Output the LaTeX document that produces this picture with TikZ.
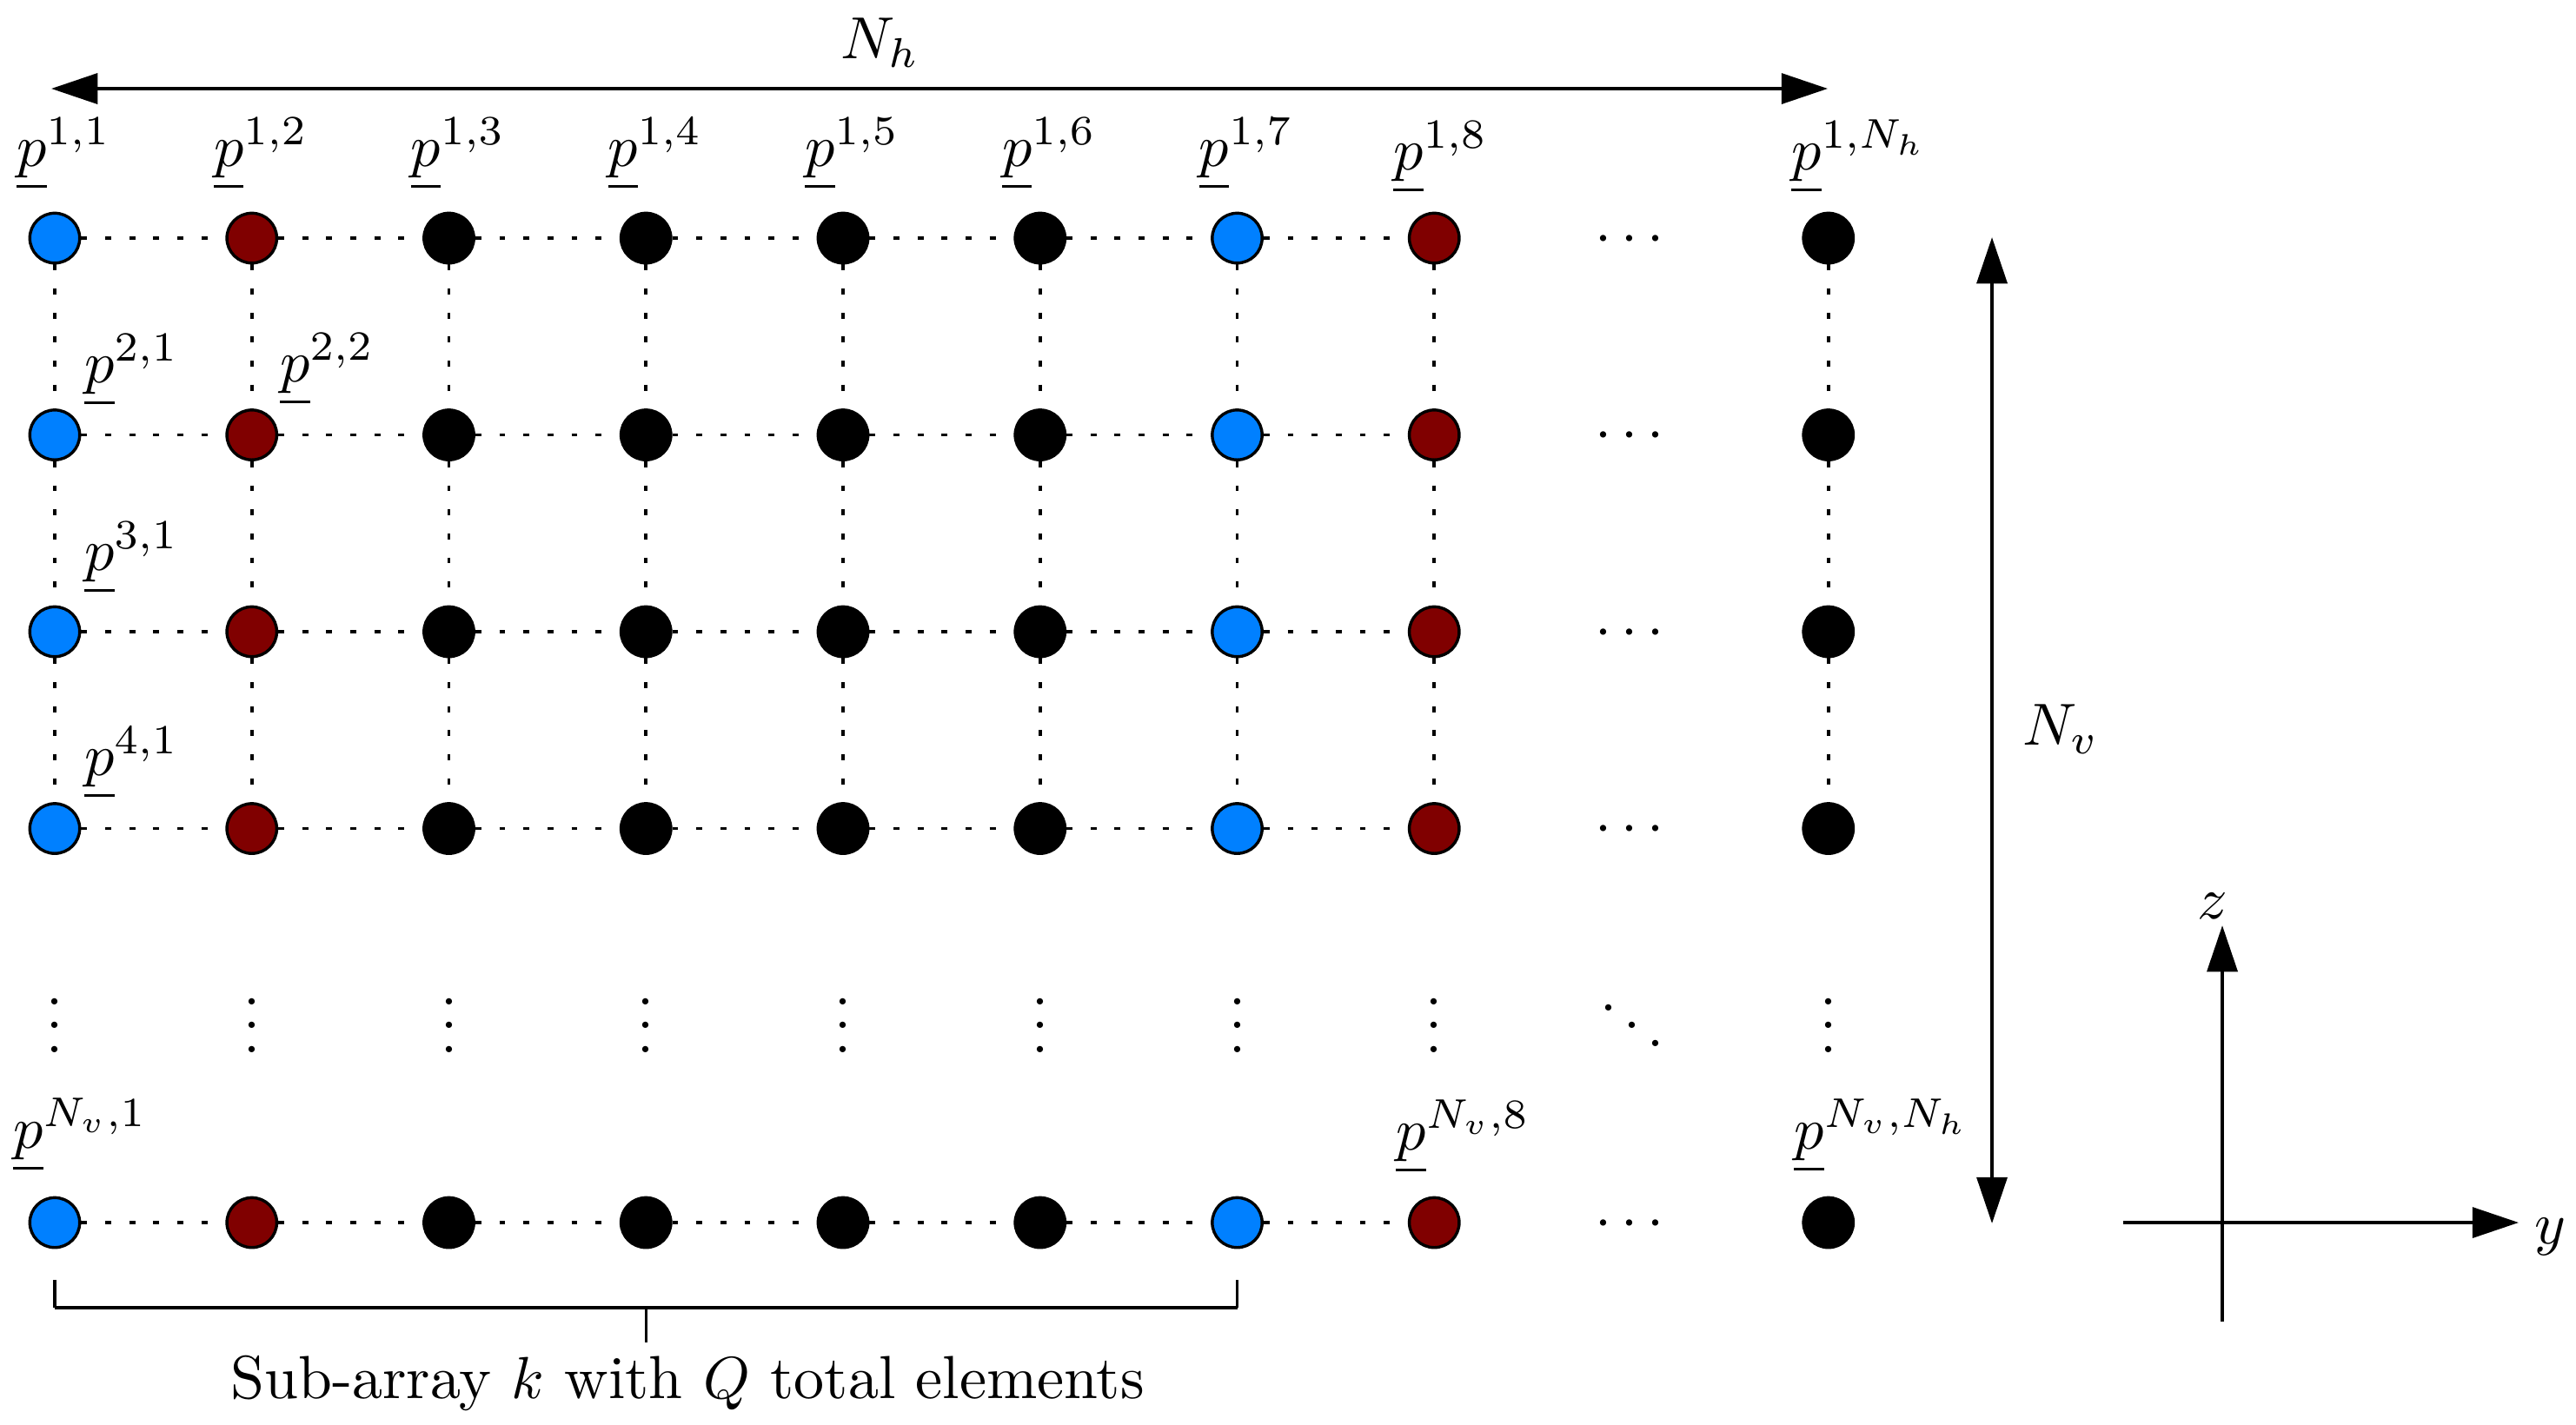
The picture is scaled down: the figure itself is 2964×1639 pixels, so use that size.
\documentclass[tikz,border=0pt]{standalone}
\usetikzlibrary{arrows.meta}
\definecolor{elemblue}{RGB}{0,128,255}
\definecolor{elemred}{RGB}{128,0,0}
\tikzset{
  elem/.style={circle, draw=black, line width=0.5pt, minimum size=8.4pt, inner sep=0pt},
  gridline/.style={line width=0.55pt, dash pattern=on 1pt off 3.05pt},
  dimarrow/.style={line width=0.6pt, arrows={Triangle[length=7.8pt,width=5.1pt]-Triangle[length=7.8pt,width=5.1pt]}},
  axisline/.style={line width=0.6pt, arrows={-Triangle[length=7.8pt,width=5.1pt]}},
  lab/.style={inner sep=0pt, anchor=south west},
  txt/.style={inner sep=0pt, anchor=base},
  dotsnode/.style={inner sep=0pt, anchor=base},
}
\begin{document}
\begin{tikzpicture}[x=0.14641pt, y=-0.14641pt]
\useasboundingbox (0,0) rectangle (2964,1639);

% elements
\foreach \c/\x/\col in {1/63/elemblue, 2/289.75/elemred, 3/516.5/black, 4/743.25/black,
                         5/970/black, 6/1196.75/black, 7/1423.5/elemblue, 8/1650.25/elemred,
                         h/2103.75/black}{
  \foreach \r/\y in {1/274, 2/500.5, 3/727, 4/953.5, v/1407}{
    \node[elem, fill=\col] (n\r\c) at (\x,\y) {};
  }
}

% horizontal dotted connections
\foreach \r in {1,2,3,4,v}{
  \foreach \a/\b in {1/2,2/3,3/4,4/5,5/6,6/7,7/8}{
    \draw[gridline] (n\r\a) -- (n\r\b);
  }
}
% vertical dotted connections
\foreach \c in {1,2,3,4,5,6,7,8,h}{
  \foreach \a/\b in {1/2,2/3,3/4}{
    \draw[gridline] (n\a\c) -- (n\b\c);
  }
}

% horizontal ellipses
\foreach \r/\y in {1/274, 2/500.5, 3/727, 4/953.5, v/1407}{
  \node[dotsnode] (cd\r) at (1875,{\y+17}) {$\cdots$};
}
% vertical ellipses
\foreach \c/\x in {1/63, 2/289.75, 3/516.5, 4/743.25, 5/970, 6/1196.75, 7/1423.5, 8/1650.25, h/2103.75}{
  \node[dotsnode] (vd\c) at (\x,1211) {$\vdots$};
}
\node[dotsnode] (dd) at (1878,1211) {$\ddots$};

% element labels
\node[lab] (l11) at (18,220) {$\underline{p}^{1,1}$};
\node[lab] (l12) at (244.75,220) {$\underline{p}^{1,2}$};
\node[lab] (l13) at (471.5,220) {$\underline{p}^{1,3}$};
\node[lab] (l14) at (698.25,220) {$\underline{p}^{1,4}$};
\node[lab] (l15) at (925,220) {$\underline{p}^{1,5}$};
\node[lab] (l16) at (1151.75,220) {$\underline{p}^{1,6}$};
\node[lab] (l17) at (1378.5,220) {$\underline{p}^{1,7}$};
\node[lab] (l18) at (1602,224) {$\underline{p}^{1,8}$};
\node[lab] (l1h) at (2060,224) {$\underline{p}^{1,N_h}$};
\node[lab] (l21) at (96,469) {$\underline{p}^{2,1}$};
\node[lab] (l22) at (321,468) {$\underline{p}^{2,2}$};
\node[lab] (l31) at (96,685) {$\underline{p}^{3,1}$};
\node[lab] (l41) at (96,921) {$\underline{p}^{4,1}$};
\node[lab] (lv1) at (14,1350) {$\underline{p}^{N_v,1}$};
\node[lab] (lv8) at (1605,1352) {$\underline{p}^{N_v,8}$};
\node[lab] (lvh) at (2063,1351) {$\underline{p}^{N_v,N_h}$};

% N_h dimension arrow
\coordinate (nhL) at (59,102);
\coordinate (nhR) at (2103,102);
\draw[dimarrow] (nhL) -- (nhR);
\node[inner sep=0pt, anchor=base west] (nhlab) at (966,67) {$N_h$};

% N_v dimension arrow
\coordinate (nvT) at (2292,273);
\coordinate (nvB) at (2292,1408);
\draw[dimarrow] (nvT) -- (nvB);
\node[inner sep=0pt, anchor=base west] (nvlab) at (2326,857) {$N_v$};

% axes
\coordinate (axL) at (2443,1407);
\coordinate (axR) at (2898,1407);
\coordinate (axB) at (2557,1521);
\coordinate (axT) at (2557,1065);
\draw[axisline] (axL) -- (axR);
\draw[axisline] (axB) -- (axT);
\node[txt] (ylab) at (2934,1431) {$y$};
\node[txt] (zlab) at (2546,1057) {$z$};

% sub-array bracket
\coordinate (br1) at (63,1473);
\coordinate (br2) at (63,1505);
\coordinate (br3) at (1423.5,1505);
\coordinate (br4) at (1423.5,1473);
\coordinate (brm) at (743.25,1505);
\coordinate (brt) at (743.25,1545);
\draw[line width=0.45pt] (br1) -- (br2);
\draw[line width=0.45pt] (br3) -- (br4);
\draw[line width=0.65pt] (br2) -- (br3);
\draw[line width=0.45pt] (brm) -- (brt);
\node[txt, font=\fontsize{10.25pt}{12pt}\selectfont] (sublab) at (791,1609) {Sub-array $k$ with $Q$ total elements};
\end{tikzpicture}
\end{document}
